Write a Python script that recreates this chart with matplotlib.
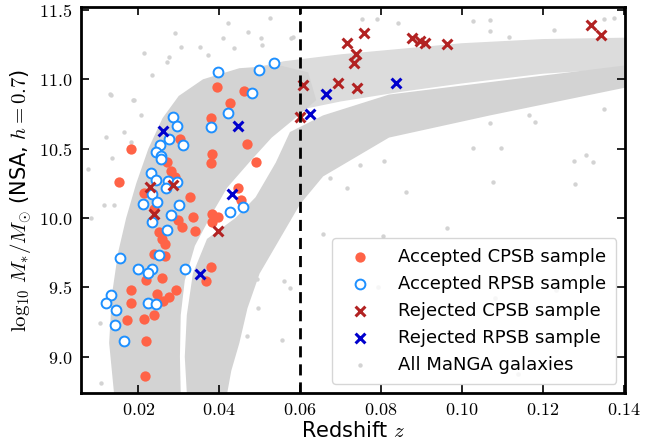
import numpy as np
import matplotlib
matplotlib.use("Agg")
import matplotlib.pyplot as plt
from matplotlib.ticker import FuncFormatter, MultipleLocator

plt.rcParams["mathtext.fontset"] = "cm"
plt.rcParams["font.family"] = ["DejaVu Sans"]

# accepted CPSB (filled tomato)
acc_cpsb_z = [0.0395, 0.0461, 0.0426, 0.0380, 0.0303, 0.0468, 0.0182, 0.0383, 0.0379, 0.0491,
              0.0271, 0.0281, 0.0292, 0.0152, 0.0215, 0.0329, 0.0447, 0.0453, 0.0239, 0.0336,
              0.0383, 0.0398, 0.0382, 0.0299, 0.0307, 0.0252, 0.0341, 0.0259, 0.0267, 0.0240,
              0.0267, 0.0379, 0.0367, 0.0218, 0.0258, 0.0182, 0.0247, 0.0293, 0.0275, 0.0262,
              0.0183, 0.0173, 0.0215, 0.0239, 0.0218, 0.0216]
acc_cpsb_m = [10.942, 10.916, 10.827, 10.721, 10.570, 10.534, 10.495, 10.464, 10.399, 10.404,
              10.404, 10.339, 10.298, 10.262, 10.178, 10.154, 10.218, 10.130, 10.063, 10.005,
              10.027, 10.009, 9.973, 9.986, 9.937, 9.901, 9.908, 9.849, 9.810, 9.738,
              9.726, 9.647, 9.546, 9.553, 9.570, 9.479, 9.452, 9.479, 9.428, 9.399,
              9.387, 9.262, 9.272, 9.303, 9.111, 8.861]

# accepted RPSB (open blue)
acc_rpsb_z = [0.0398, 0.0499, 0.0536, 0.0480, 0.0421, 0.0286, 0.0296, 0.0275, 0.0310, 0.0253,
              0.0243, 0.0255, 0.0255, 0.0380, 0.0232, 0.0243, 0.0274, 0.0297, 0.0268, 0.0233,
              0.0211, 0.0247, 0.0300, 0.0281, 0.0235, 0.0426, 0.0458, 0.0270, 0.0154, 0.0252,
              0.0200, 0.0233, 0.0223, 0.0316, 0.0132, 0.0119, 0.0145, 0.0223, 0.0245, 0.0142,
              0.0165]
acc_rpsb_m = [11.050, 11.067, 11.118, 10.903, 10.755, 10.726, 10.665, 10.567, 10.528, 10.524,
              10.476, 10.449, 10.425, 10.658, 10.322, 10.274, 10.267, 10.262, 10.218, 10.171,
              10.103, 10.115, 10.096, 10.019, 9.969, 10.043, 10.077, 9.913, 9.709, 9.735,
              9.632, 9.632, 9.601, 9.630, 9.447, 9.389, 9.337, 9.387, 9.378, 9.226,
              9.111]

# rejected CPSB (dark red x)
rej_cpsb_z = [0.0228, 0.0287, 0.0240, 0.0398, 0.0607, 0.0600, 0.0717, 0.0759, 0.0738, 0.0734,
              0.0693, 0.0741, 0.0878, 0.0897, 0.0909, 0.0963, 0.1320, 0.1344]
rej_cpsb_m = [10.226, 10.236, 10.027, 9.906, 10.957, 10.728, 11.264, 11.336, 11.180, 11.115,
              10.971, 10.935, 11.300, 11.276, 11.260, 11.252, 11.391, 11.319]

# rejected RPSB (blue x)
rej_rpsb_z = [0.0262, 0.0446, 0.0431, 0.0625, 0.0665, 0.0353, 0.0838]
rej_rpsb_m = [10.627, 10.663, 10.173, 10.750, 10.892, 9.594, 10.973]

# MaNGA parent sample: outline of the dense bands (z, logM)
band_lo_z = [0.0140, 0.0128, 0.0135, 0.0150, 0.0170, 0.0195, 0.0225, 0.0260, 0.0300, 0.0360,
             0.0450, 0.0550, 0.0620, 0.0640, 0.0580, 0.0530, 0.0480, 0.0420, 0.0380, 0.0340,
             0.0315, 0.0305, 0.0303, 0.0305]
band_lo_m = [8.74, 9.10, 9.45, 9.75, 10.00, 10.25, 10.50, 10.72, 10.88, 11.00,
             11.08, 11.10, 11.05, 10.85, 10.70, 10.58, 10.42, 10.22, 10.02, 9.80,
             9.55, 9.30, 9.00, 8.74]
band_up_z = [0.0450, 0.0560, 0.0700, 0.0850, 0.1000, 0.1200, 0.1404,
             0.1404, 0.1200, 0.1000, 0.0850, 0.0700, 0.0600]
band_up_m = [11.06, 11.13, 11.18, 11.22, 11.26, 11.29, 11.30,
             11.08, 11.04, 10.97, 10.91, 10.84, 10.78]
band_hi_z = [0.0320, 0.0315, 0.0320, 0.0335, 0.0370, 0.0440, 0.0490, 0.0540, 0.0575, 0.0657,
             0.0820, 0.1070, 0.1404, 0.1404, 0.1070, 0.0820, 0.0657, 0.0600, 0.0550, 0.0500,
             0.0470, 0.0450, 0.0430, 0.0420]
band_hi_m = [8.74, 9.00, 9.30, 9.60, 9.85, 10.00, 10.15, 10.40, 10.62, 10.74,
             10.89, 10.98, 11.10, 10.94, 10.74, 10.58, 10.30, 10.10, 9.85, 9.60,
             9.35, 9.10, 8.90, 8.74]
# isolated MaNGA galaxies
out_z = [0.0963, 0.1077, 0.1027, 0.1098, 0.1277, 0.1308, 0.1325, 0.1281, 0.1165, 0.1182,
         0.1070, 0.0862, 0.0807, 0.0749, 0.0716, 0.0674, 0.1351, 0.0656, 0.0804, 0.0792,
         0.1083, 0.1233, 0.1139, 0.0493, 0.0561, 0.0575, 0.0468, 0.0555, 0.0495, 0.0105,
         0.0109, 0.0423, 0.0526, 0.0292, 0.0214, 0.0130, 0.0120, 0.0076, 0.0187, 0.0352,
         0.0270, 0.0505, 0.0472, 0.0583, 0.0136, 0.0116, 0.0276, 0.0305, 0.0235, 0.0132,
         0.0190, 0.0206, 0.0165, 0.0182, 0.0409, 0.0372, 0.0437, 0.0503, 0.0578, 0.0083,
         0.0140, 0.0753, 0.0791, 0.0843, 0.1027, 0.1069, 0.1351, 0.1376, 0.1227, 0.1070,
         0.1116]
out_m = [9.930, 10.262, 10.507, 10.503, 10.411, 10.454, 10.406, 10.245, 10.743, 10.694,
         10.683, 10.190, 10.413, 10.382, 10.218, 10.286, 10.786, 9.882, 9.870, 9.505,
         9.421, 9.481, 8.873, 9.558, 9.546, 9.493, 9.151, 9.120, 9.349, 9.241,
         8.808, 11.408, 11.440, 11.332, 11.187, 10.892, 10.586, 10.353, 10.851, 11.235,
         11.127, 11.247, 11.343, 11.307, 10.430, 10.094, 11.163, 11.235, 11.031, 10.887,
         10.851, 10.743, 10.622, 10.550, 11.296, 11.175, 11.224, 11.296, 11.296, 9.998,
         10.094, 11.435, 11.435, 11.404, 11.420, 11.428, 11.435, 11.440, 11.355, 11.348,
         11.307]

Z_CUT = 0.06

fig = plt.figure(figsize=(6.68, 4.46), dpi=100)
ax = fig.add_axes([0.121, 0.119, 0.815, 0.865])

ax.fill(band_up_z, band_up_m, color="#dcdcdc", lw=0, zorder=1)
for bz, bm in ((band_lo_z, band_lo_m), (band_hi_z, band_hi_m)):
    ax.fill(bz, bm, color="lightgray", lw=0, zorder=1)
ax.scatter(out_z, out_m, s=10, color="lightgray", lw=0, zorder=1, label="All MaNGA galaxies")

ax.scatter(acc_cpsb_z, acc_cpsb_m, s=55, color="tomato", lw=0, zorder=3,
           label="Accepted CPSB sample")
ax.scatter(acc_rpsb_z, acc_rpsb_m, s=50, facecolor="white", edgecolor="dodgerblue",
           lw=1.4, zorder=3, label="Accepted RPSB sample")
ax.scatter(rej_cpsb_z, rej_cpsb_m, s=50, marker="x", color="firebrick", lw=2.2, zorder=4,
           label="Rejected CPSB sample")
ax.scatter(rej_rpsb_z, rej_rpsb_m, s=50, marker="x", color="mediumblue", lw=2.2, zorder=4,
           label="Rejected RPSB sample")
ax.axvline(Z_CUT, color="k", ls="--", lw=2, dashes=(4, 2.5), zorder=5)

ax.set_xlim(0.0058, 0.1404)
ax.set_ylim(8.74, 11.52)
ax.xaxis.set_major_locator(MultipleLocator(0.02))
ax.yaxis.set_major_locator(MultipleLocator(0.5))
ax.xaxis.set_major_formatter(FuncFormatter(lambda v, p: f"${v:.2f}$"))
ax.yaxis.set_major_formatter(FuncFormatter(lambda v, p: f"${v:.1f}$"))
ax.tick_params(direction="in", length=6, width=1.2, labelsize=13, top=True, right=True, pad=6)
for s in ax.spines.values():
    s.set_linewidth(2)

ax.set_xlabel("Redshift $z$", fontsize=15, labelpad=1)
ax.set_ylabel(r"$\log_{10}\, M_{*}/M_{\odot}$ (NSA, $h=0.7$)", fontsize=15, labelpad=4)

h, l = ax.get_legend_handles_labels()
order = [l.index(k) for k in ("Accepted CPSB sample", "Accepted RPSB sample",
                              "Rejected CPSB sample", "Rejected RPSB sample",
                              "All MaNGA galaxies")]
ax.legend([h[i] for i in order], [l[i] for i in order], loc="lower right", fontsize=13,
          borderaxespad=0.5, handletextpad=1.1, labelspacing=0.5, borderpad=0.55,
          framealpha=0.8)

fig.savefig("out.png", dpi=100, facecolor="white")
